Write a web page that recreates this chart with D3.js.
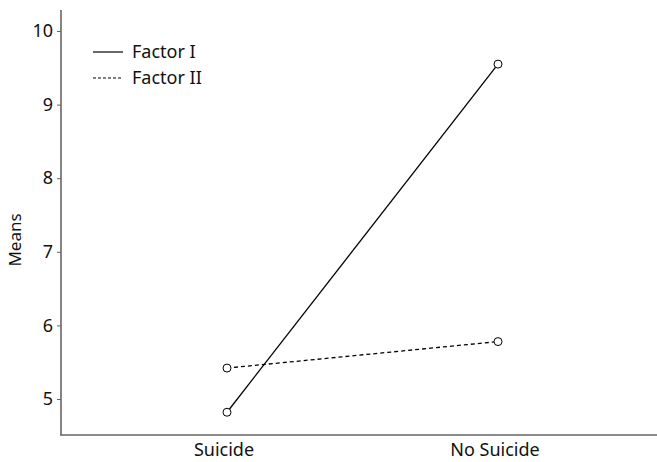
<!DOCTYPE html>
<html><head><meta charset="utf-8">
<script src="https://cdn.jsdelivr.net/npm/d3@7"></script>
<style>body{margin:0;background:#fff}svg{display:block}text{font-family:"Noto Sans",sans-serif;fill:#111}</style>
</head><body><svg id="c" width="657" height="462"></svg>
<script>
const categories = ["Suicide", "No Suicide"];
const factorI = [4.82, 9.55];
const factorII = [5.42, 5.78];
const seriesNames = ["Factor I", "Factor II"];
const yTicks = [5, 6, 7, 8, 9, 10];

const svg = d3.select("#c");
const x = d3.scalePoint().domain(categories).range([227, 498]);
const y = d3.scaleLinear().domain([5, 10]).range([399, 31]);
const axisColor = "#666";
const font = "Noto Sans";

// axes
svg.append("line").attr("x1", 61).attr("x2", 61).attr("y1", 10).attr("y2", 435.5)
  .attr("stroke", axisColor).attr("stroke-width", 1.6);
svg.append("line").attr("x1", 60.2).attr("x2", 657).attr("y1", 435).attr("y2", 435)
  .attr("stroke", axisColor).attr("stroke-width", 1.6);

const yAxis = svg.append("g").attr("transform", "translate(61,0)")
  .call(d3.axisLeft(y).tickValues(yTicks).tickSize(4).tickPadding(4).tickFormat(d3.format("d")));
yAxis.select(".domain").remove();
yAxis.selectAll("line").attr("stroke", axisColor);
yAxis.selectAll("text").attr("font-size", 18).attr("fill", "#111").style("font-family", font);

const xAxis = svg.append("g").attr("transform", "translate(0,435)")
  .call(d3.axisBottom(x).tickSize(0).tickPadding(8));
xAxis.select(".domain").remove();
xAxis.selectAll("text").attr("font-size", 18).attr("dx", -3.5).attr("fill", "#111").style("font-family", font);

svg.append("text").attr("transform", "translate(21,240) rotate(-90)")
  .attr("text-anchor", "middle").attr("font-size", 17).text("Means");

const series = [
  {name: seriesNames[0], values: factorI, dash: null},
  {name: seriesNames[1], values: factorII, dash: "4,3"}
];
const line = d3.line().x((d, i) => x(categories[i])).y(d => y(d));
series.forEach(s => {
  svg.append("path").datum(s.values).attr("d", line).attr("fill", "none")
    .attr("stroke", "#000").attr("stroke-width", 1.3).attr("stroke-dasharray", s.dash);
  svg.selectAll(null).data(s.values).enter().append("circle")
    .attr("cx", (d, i) => x(categories[i])).attr("cy", d => y(d)).attr("r", 4)
    .attr("fill", "#fff").attr("stroke", "#000").attr("stroke-width", 1);
});

// legend
series.forEach((s, i) => {
  const ly = 52 + i * 26;
  svg.append("line").attr("x1", 93).attr("x2", 123).attr("y1", ly).attr("y2", ly)
    .attr("stroke", "#000").attr("stroke-width", 1.2).attr("stroke-dasharray", s.dash ? "3,2" : null);
  svg.append("text").attr("x", 132).attr("y", ly + 6).attr("font-size", 18).text(s.name);
});
</script></body></html>
